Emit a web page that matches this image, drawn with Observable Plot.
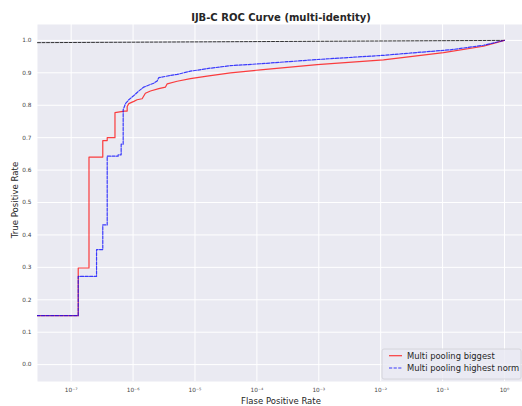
<!DOCTYPE html>
<html>
<head>
<meta charset="utf-8">
<script src="https://cdn.jsdelivr.net/npm/d3@7"></script>
<script src="https://cdn.jsdelivr.net/npm/@observablehq/plot@0.6"></script>
<style>
  html, body { margin: 0; padding: 0; background: #fff; overflow: hidden; }
  #chart { position: relative; width: 522px; height: 406px; }
</style>
</head>
<body>
<div id="chart"></div>
<script>
const redX = [1e-8, 1.30e-7, 1.30e-7, 1.94e-7, 1.94e-7, 3.24e-7, 3.24e-7, 3.82e-7, 3.82e-7, 5.1e-7, 5.1e-7, 7.26e-7, 8.03e-7, 8.03e-7, 8.53e-7, 1.03e-6, 1.16e-6, 1.40e-6, 1.58e-6, 1.91e-6, 2.60e-6, 3.34e-6, 3.56e-6, 5.15e-6, 8.45e-6, 1.57e-5, 3.75e-5, 1.14e-4, 9.42e-4, 1.11e-2, 1.035e-1, 4.58e-1, 1];
const redY = [0.151, 0.151, 0.298, 0.298, 0.640, 0.640, 0.691, 0.691, 0.700, 0.700, 0.777, 0.782, 0.782, 0.796, 0.805, 0.812, 0.817, 0.820, 0.837, 0.844, 0.851, 0.856, 0.866, 0.874, 0.882, 0.890, 0.900, 0.909, 0.925, 0.940, 0.962, 0.982, 1.0];

const blueX = [1e-8, 1.30e-7, 1.30e-7, 2.57e-7, 2.57e-7, 3.24e-7, 3.24e-7, 3.82e-7, 3.82e-7, 5.74e-7, 5.74e-7, 6.42e-7, 6.42e-7, 6.92e-7, 6.92e-7, 7.54e-7, 8.53e-7, 1.03e-6, 1.24e-6, 1.49e-6, 1.91e-6, 2.16e-6, 2.45e-6, 2.60e-6, 3.34e-6, 4.02e-6, 5.15e-6, 8.45e-6, 1.57e-5, 3.75e-5, 1.14e-4, 9.42e-4, 1.11e-2, 1.34e-1, 4.58e-1, 1];
const blueY = [0.151, 0.151, 0.272, 0.272, 0.355, 0.355, 0.431, 0.431, 0.643, 0.643, 0.647, 0.647, 0.680, 0.680, 0.786, 0.805, 0.817, 0.830, 0.844, 0.856, 0.864, 0.868, 0.875, 0.885, 0.889, 0.892, 0.895, 0.905, 0.913, 0.922, 0.928, 0.941, 0.954, 0.971, 0.985, 1.0];

const refX = [2.86e-8, 1];
const refY = [0.993, 1.0];

const xTicks = [1e-7, 1e-6, 1e-5, 1e-4, 1e-3, 1e-2, 1e-1, 1];
const xTickLabels = ["10\u207B\u2077", "10\u207B\u2076", "10\u207B\u2075", "10\u207B\u2074", "10\u207B\u00B3", "10\u207B\u00B2", "10\u207B\u00B9", "10\u2070"];
const yTicks = [0, 0.1, 0.2, 0.3, 0.4, 0.5, 0.6, 0.7, 0.8, 0.9, 1.0];
const yTickLabels = ["0.0", "0.1", "0.2", "0.3", "0.4", "0.5", "0.6", "0.7", "0.8", "0.9", "1.0"];

const seriesNames = ["Multi pooling biggest", "Multi pooling highest norm"];
const titleText = "IJB-C ROC Curve (multi-identity)";
const xLabel = "Flase Positive Rate";
const yLabel = "True Positive Rate";

const red = redX.map((x, i) => ({x, y: redY[i]}));
const blue = blueX.map((x, i) => ({x, y: blueY[i]}));
const ref = refX.map((x, i) => ({x, y: refY[i]}));

const font = "DejaVu Sans, sans-serif";

const chart = Plot.plot({
  width: 522,
  height: 406,
  marginTop: 24,
  marginBottom: 25,
  marginLeft: 37,
  marginRight: 0,
  style: {fontFamily: font, background: "#fff", overflow: "hidden"},
  x: {type: "log", domain: [Math.pow(10, -7.544), Math.pow(10, 0.291)]},
  y: {domain: [-0.052, 1.049]},
  marks: [
    Plot.frame({fill: "#EAEAF2", stroke: null}),
    Plot.gridX(xTicks, {stroke: "#fff", strokeOpacity: 1, strokeWidth: 1}),
    Plot.gridY(yTicks, {stroke: "#fff", strokeOpacity: 1, strokeWidth: 1}),
    Plot.axisX({ticks: xTicks, tickSize: 0, tickPadding: 6, fontSize: 5.8, fill: "#444",
      tickFormat: (d) => xTickLabels[xTicks.findIndex(t => Math.abs(Math.log10(t) - Math.log10(d)) < 1e-6)], label: null}),
    Plot.axisY({ticks: yTicks, tickSize: 0, tickPadding: 6, fontSize: 5.8, fill: "#444",
      tickFormat: (d) => yTickLabels[yTicks.findIndex(t => Math.abs(t - d) < 1e-6)], label: null}),
    Plot.line(ref, {x: "x", y: "y", stroke: "#111", strokeWidth: 1, strokeDasharray: "3,1.5", strokeOpacity: 0.85, clip: true}),
    Plot.line(red, {x: "x", y: "y", stroke: "red", strokeWidth: 1.2, strokeOpacity: 0.75, clip: true}),
    Plot.line(blue, {x: "x", y: "y", stroke: "blue", strokeWidth: 1.2, strokeOpacity: 0.75, strokeDasharray: "3.2,1.4", clip: true})
  ]
});

document.getElementById("chart").appendChild(chart);

const svg = d3.select(chart);
svg.append("text")
  .attr("x", 281).attr("y", 20.5)
  .attr("text-anchor", "middle")
  .attr("font-family", font).attr("font-weight", "bold").attr("font-size", 10)
  .attr("fill", "#262626")
  .text(titleText);
svg.append("text")
  .attr("x", 281).attr("y", 403.5)
  .attr("text-anchor", "middle")
  .attr("font-family", font).attr("font-size", 8.5)
  .attr("fill", "#262626")
  .text(xLabel);
svg.append("text")
  .attr("transform", "translate(18,200) rotate(-90)")
  .attr("text-anchor", "middle")
  .attr("font-family", font).attr("font-size", 8.6)
  .attr("fill", "#262626")
  .text(yLabel);

// legend
const lg = svg.append("g");
lg.append("rect")
  .attr("x", 382).attr("y", 349).attr("width", 139).attr("height", 30).attr("rx", 2)
  .attr("fill", "#EAEAF2").attr("fill-opacity", 0.8)
  .attr("stroke", "#d0d0d6").attr("stroke-width", 0.8);
const legendStyles = [
  {stroke: "red", dash: null},
  {stroke: "blue", dash: "3.2,1.4"}
];
seriesNames.forEach((name, i) => {
  const y = 355.7 + i * 12.3;
  const l = lg.append("line")
    .attr("x1", 389).attr("x2", 402).attr("y1", y).attr("y2", y)
    .attr("stroke", legendStyles[i].stroke).attr("stroke-opacity", 0.75).attr("stroke-width", 1.2);
  if (legendStyles[i].dash) l.attr("stroke-dasharray", legendStyles[i].dash);
  lg.append("text")
    .attr("x", 407).attr("y", y).attr("dy", "0.35em")
    .attr("text-anchor", "start")
    .attr("font-family", font).attr("font-size", 8.4)
    .attr("fill", "#262626")
    .text(name);
});
</script>
</body>
</html>
